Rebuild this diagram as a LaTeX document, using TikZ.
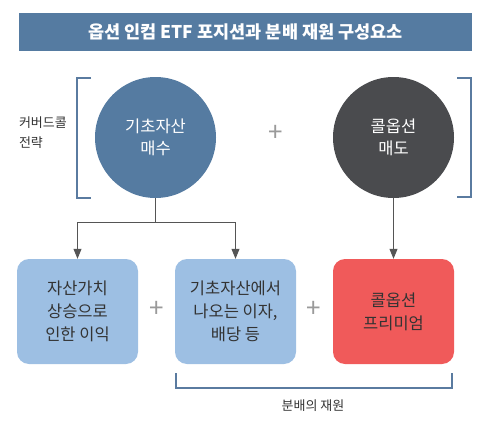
\documentclass[tikz,border=0pt]{standalone}
\usepackage{fontspec}
\setmainfont{Noto Sans CJK KR}
\usetikzlibrary{arrows.meta}
\definecolor{titlebg}{HTML}{557BA1}
\definecolor{circblue}{HTML}{557BA1}
\definecolor{circdark}{HTML}{4A4B4E}
\definecolor{boxblue}{HTML}{9DBFE3}
\definecolor{boxred}{HTML}{F05A5A}
\definecolor{brk}{HTML}{5A7BA0}
\definecolor{conn}{HTML}{555555}
\definecolor{plusc}{HTML}{9A9A9A}
\definecolor{txt}{HTML}{333333}
\begin{document}
\begin{tikzpicture}[x=1pt,y=-1pt,
  circ/.style={circle,minimum size=121pt,inner sep=0pt,text=white,font=\fontsize{16.5}{21.5}\selectfont,align=center},
  rbox/.style={rounded corners=12pt,minimum width=121pt,minimum height=105pt,inner sep=0pt,text=txt,font=\fontsize{16.5}{23}\selectfont,align=center},
  plus/.style={text=plusc,font=\fontsize{26}{26}\selectfont},
  small/.style={text=txt,font=\fontsize{13}{19.5}\selectfont,align=left},
  bracket/.style={draw=brk,line width=1.3pt},
  connector/.style={draw=conn,line width=1pt},
  arr/.style={connector,-{Triangle[length=10pt,width=8pt]}}]
\useasboundingbox (0,0) rectangle (485,423);
% title
\node[fill=titlebg,minimum width=453pt,minimum height=38pt,inner sep=0pt,text=white,font=\fontsize{17.5}{17.5}\selectfont\bfseries] (title) at (245.5,32) {옵션 인컴 ETF 포지션과 분배 재원 구성요소};
% circles
\node[circ,fill=circblue] (c1) at (155.5,137.5) {기초자산\\매수};
\node[circ,fill=circdark] (c2) at (393.5,137.5) {콜옵션\\매도};
\node[plus] (p0) at (276,133) {+};
% brackets
\coordinate (lb1) at (91,78);
\coordinate (lb2) at (91,198);
\draw[bracket] (lb1) -- ++(-14,0) |- (lb2);
\coordinate (rb1) at (457,78);
\coordinate (rb2) at (457,197);
\draw[bracket] (rb1) -- ++(14,0) |- (rb2);
\node[small,anchor=west] (strat) at (15.5,132.5) {커버드콜\\전략};
% boxes
\node[rbox,fill=boxblue] (b1) at (77.5,311.5) {자산가치\\상승으로\\인한 이익};
\node[rbox,fill=boxblue] (b2) at (235.5,311.5) {기초자산에서\\나오는 이자,\\배당 등};
\node[rbox,fill=boxred] (b3) at (393.5,311.5) {콜옵션\\프리미엄};
\node[plus] (p1) at (156.5,309) {+};
\node[plus] (p2) at (314,309) {+};
% connectors
\coordinate (j) at (155.5,222);
\draw[connector] (c1.south) -- (j);
\draw[arr] (j) -| (b1.north);
\draw[arr] (j) -| (b2.north);
\draw[arr] (c2.south) -- (b3.north);
% bottom bracket
\coordinate (bb1) at (176,373);
\coordinate (bb2) at (452,373);
\draw[bracket] (bb1) -- ++(0,15) -| (bb2);
\node[small] (src) at (313,406) {분배의 재원};
\end{tikzpicture}
\end{document}
